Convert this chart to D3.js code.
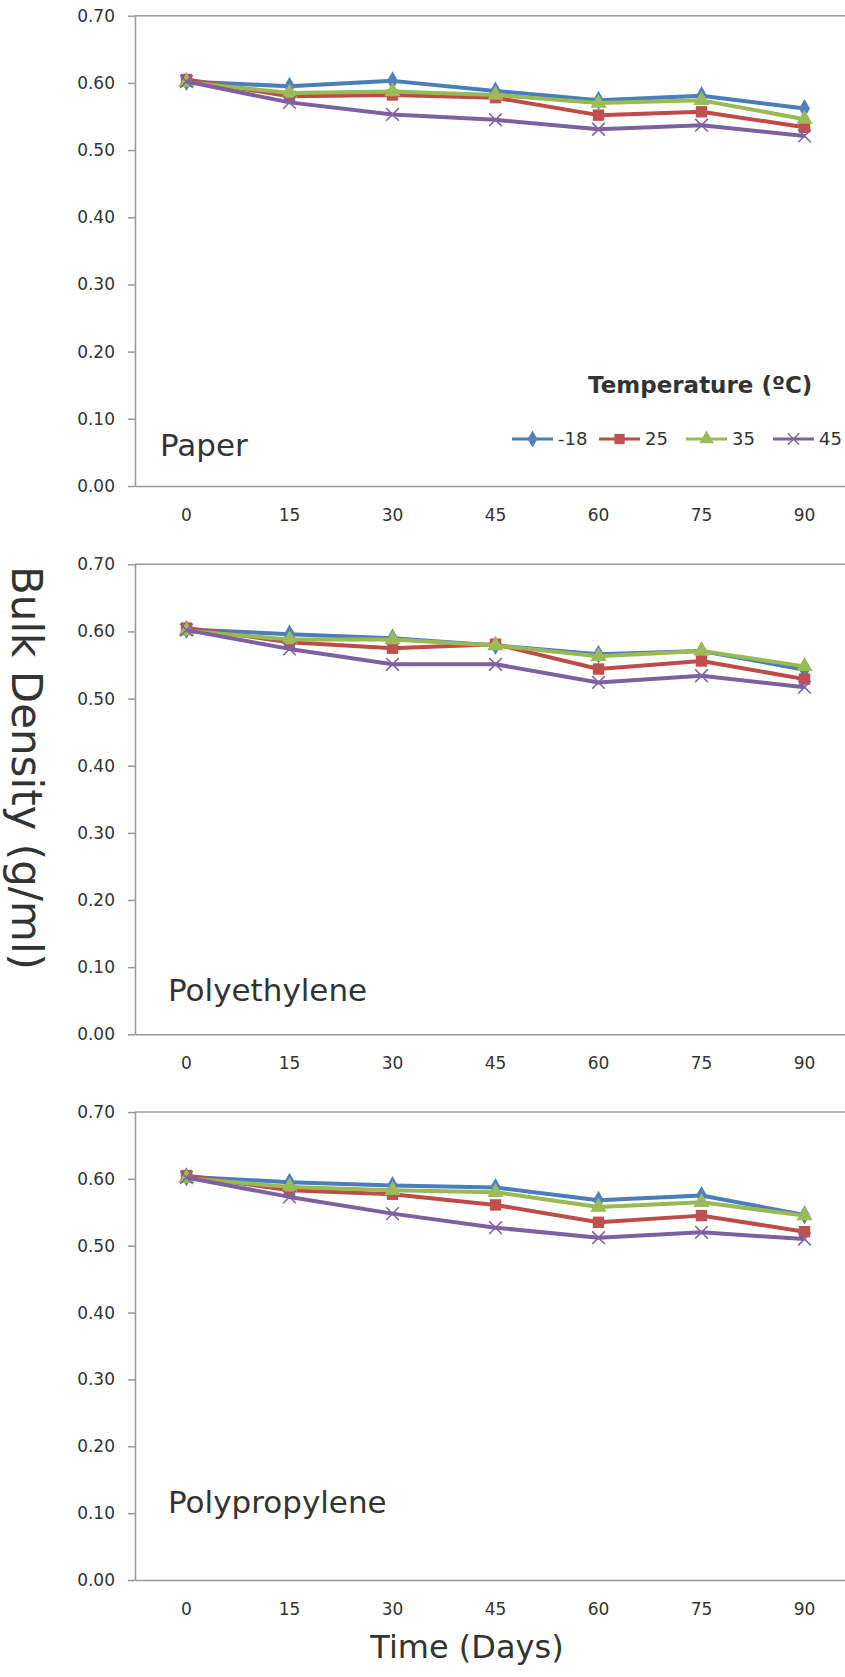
<!DOCTYPE html>
<html>
<head>
<meta charset="utf-8">
<script src="https://cdn.jsdelivr.net/npm/d3@7"></script>
<style>
    body { margin: 0; background: #fff; }
    text { font-family: "DejaVu Sans", Verdana, sans-serif; fill: #333; }
</style>
</head>
<body>
<div id="chart"></div>
<script>
    // Storage time (days) and temperatures
    const days = [0, 15, 30, 45, 60, 75, 90];
    const temps = ["-18", "25", "35", "45"];

    // Bulk density (g/ml)
    const paperM18 = [0.602, 0.595, 0.603, 0.588, 0.574, 0.581, 0.562];
    const paper25  = [0.605, 0.580, 0.582, 0.578, 0.552, 0.557, 0.534];
    const paper35  = [0.601, 0.585, 0.587, 0.582, 0.570, 0.574, 0.546];
    const paper45  = [0.602, 0.571, 0.553, 0.545, 0.531, 0.537, 0.521];

    const peM18 = [0.603, 0.596, 0.590, 0.579, 0.566, 0.571, 0.543];
    const pe25  = [0.605, 0.584, 0.575, 0.581, 0.544, 0.556, 0.529];
    const pe35  = [0.601, 0.588, 0.588, 0.579, 0.563, 0.571, 0.548];
    const pe45  = [0.602, 0.574, 0.551, 0.551, 0.524, 0.534, 0.517];

    const ppM18 = [0.603, 0.595, 0.590, 0.587, 0.568, 0.575, 0.546];
    const pp25  = [0.605, 0.583, 0.577, 0.561, 0.535, 0.545, 0.521];
    const pp35  = [0.601, 0.588, 0.583, 0.580, 0.558, 0.565, 0.545];
    const pp45  = [0.602, 0.573, 0.548, 0.527, 0.512, 0.520, 0.510];

    const yTicks = [0, 0.1, 0.2, 0.3, 0.4, 0.5, 0.6, 0.7];

    const panels = [
        { name: "Paper", series: [paperM18, paper25, paper35, paper45], top: 15.7, bottom: 486, labelX: 160, labelY: 456 },
        { name: "Polyethylene", series: [peM18, pe25, pe35, pe45], top: 564.3, bottom: 1034.3, labelX: 168, labelY: 1001 },
        { name: "Polypropylene", series: [ppM18, pp25, pp35, pp45], top: 1112, bottom: 1580, labelX: 168, labelY: 1513 }
    ];

    const lineColors = ["#4A7EBB", "#BE4B48", "#98B954", "#7D60A0"];
    const markColors = ["#4F81BD", "#C0504D", "#9BBB59", "#8064A2"];
    const axisColor = "#989898";

    // x marker drawn as two strokes
    const symX = {
        draw(ctx, size) {
            const r = Math.sqrt(size) / 2;
            ctx.moveTo(-r, -r); ctx.lineTo(r, r);
            ctx.moveTo(r, -r); ctx.lineTo(-r, r);
        }
    };
    const symbols = [
        d3.symbol(d3.symbolDiamond, 105),
        d3.symbol(d3.symbolSquare, 130),
        d3.symbol(d3.symbolTriangle, 115),
        d3.symbol(symX, 160)
    ];

    const width = 845;
    const height = 1677;
    const axisLeft = 135;

    const svg = d3.select("#chart")
        .append("svg")
        .attr("width", width)
        .attr("height", height);

    const x = d3.scaleBand()
        .domain(days)
        .range([axisLeft, 856]);
    const cx = d => x(d) + x.bandwidth() / 2;

    function drawMarker(g, i, px, py, scale) {
        const p = g.append("path")
            .attr("d", symbols[i]())
            .attr("transform", `translate(${px},${py}) scale(${scale || 1})`);
        if (i === 3) {
            p.attr("fill", "none").attr("stroke", markColors[i]).attr("stroke-width", 1.6);
        } else {
            p.attr("fill", markColors[i]);
        }
    }

    panels.forEach(panel => {
        const y = d3.scaleLinear()
            .domain([0, 0.7])
            .range([panel.bottom, panel.top]);

        const g = svg.append("g");

        // top border of plot area
        g.append("line")
            .attr("x1", axisLeft).attr("x2", 856)
            .attr("y1", y(0.7)).attr("y2", y(0.7))
            .attr("stroke", axisColor).attr("stroke-width", 1.5);

        const ya = g.append("g")
            .attr("transform", `translate(${axisLeft},0)`)
            .call(d3.axisLeft(y).tickValues(yTicks).tickFormat(d3.format(".2f"))
                .tickSize(7).tickSizeOuter(0).tickPadding(13));

        const xa = g.append("g")
            .attr("transform", `translate(0,${y(0)})`)
            .call(d3.axisBottom(x).tickSize(0).tickPadding(23));

        [ya, xa].forEach(a => {
            a.selectAll("path, line").attr("stroke", axisColor).attr("stroke-width", 1.5);
            a.selectAll("text").attr("font-size", 17).attr("fill", "#333")
                .attr("font-family", "'DejaVu Sans', Verdana, sans-serif");
        });

        // panel name
        g.append("text")
            .attr("x", panel.labelX)
            .attr("y", panel.labelY)
            .attr("font-size", 31)
            .attr("fill", "#111")
            .text(panel.name);

        const line = d3.line()
            .x((d, j) => cx(days[j]))
            .y(d => y(d));

        panel.series.forEach((vals, i) => {
            g.append("path")
                .datum(vals)
                .attr("d", line)
                .attr("fill", "none")
                .attr("stroke", lineColors[i])
                .attr("stroke-width", 4)
                .attr("stroke-linejoin", "round");
            vals.forEach((v, j) => drawMarker(g, i, cx(days[j]), y(v)));
        });
    });

    // legend in the top panel
    const legend = svg.append("g");
    legend.append("text")
        .attr("x", 588)
        .attr("y", 393)
        .attr("font-size", 23)
        .attr("font-weight", "bold")
        .attr("fill", "#000")
        .text("Temperature (ºC)");

    temps.forEach((t, i) => {
        const x0 = 512 + i * 87;
        const ly = 439;
        legend.append("line")
            .attr("x1", x0).attr("x2", x0 + 41)
            .attr("y1", ly).attr("y2", ly)
            .attr("stroke", lineColors[i]).attr("stroke-width", 3);
        drawMarker(legend, i, x0 + 20.5, ly, 0.9);
        legend.append("text")
            .attr("x", x0 + 46)
            .attr("y", ly)
            .attr("dy", "0.35em")
            .attr("font-size", 18)
            .attr("fill", "#333")
            .text(t);
    });

    // axis titles
    svg.append("text")
        .attr("transform", "translate(12,768) rotate(90)")
        .attr("text-anchor", "middle")
        .attr("font-size", 42)
        .attr("fill", "#111")
        .text("Bulk Density (g/ml)");

    svg.append("text")
        .attr("x", 467)
        .attr("y", 1658)
        .attr("text-anchor", "middle")
        .attr("font-size", 32)
        .attr("fill", "#111")
        .text("Time (Days)");
</script>
</body>
</html>
